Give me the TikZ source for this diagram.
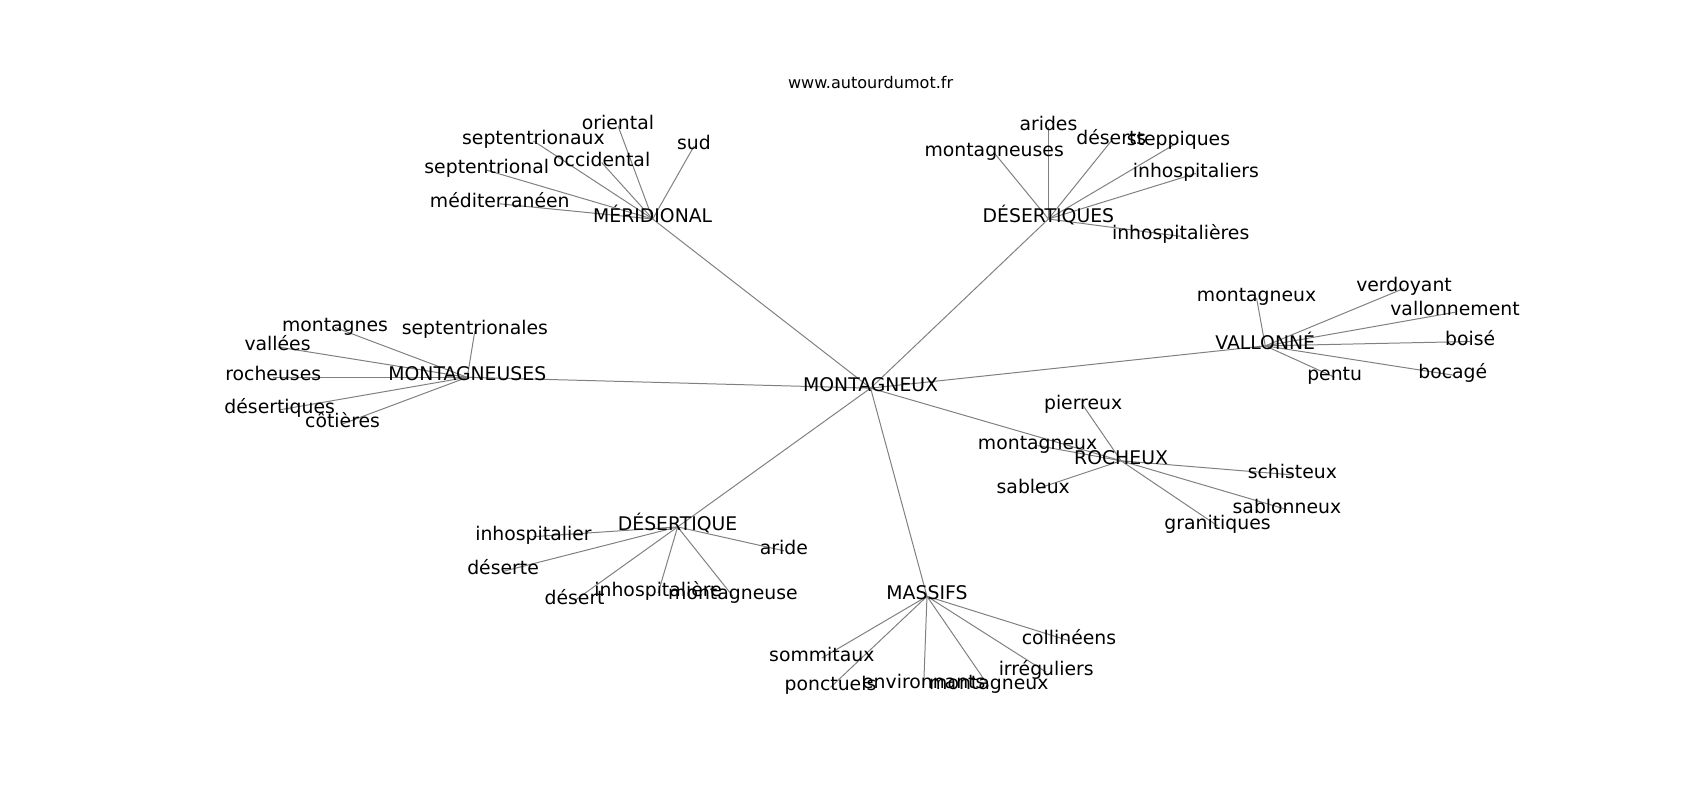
\documentclass[tikz,border=0pt]{standalone}
\usepackage{fontspec}
\setmainfont{DejaVu Sans}
\usetikzlibrary{backgrounds}

\begin{document}
\begin{tikzpicture}[x=0.027538cm,y=-0.027538cm,
	word/.style={inner sep=0pt,text height=0.76em,text depth=0.24em,font=\fontsize{13.6}{16}\selectfont},
	link/.style={draw=black!50,line width=0.72pt}]
	\useasboundingbox (0,-3) rectangle (1568,735);
	\node[inner sep=0pt,font=\fontsize{11.6}{14}\selectfont] (title) at (803,73) {www.autourdumot.fr};
	
	\node[word] (c) at (803,355) {MONTAGNEUX};
	\node[word] (a0) at (602,199) {MÉRIDIONAL};
	\node[word] (b0) at (967,199) {DÉSERTIQUES};
	\node[word] (d0) at (431,345) {MONTAGNEUSES};
	\node[word] (e0) at (1167,316) {VALLONNÉ};
	\node[word] (f0) at (1034,422) {ROCHEUX};
	\node[word] (g0) at (625,483) {DÉSERTIQUE};
	\node[word] (k0) at (855,547) {MASSIFS};
	
	\node[word] (a1) at (570,113) {oriental};
	\node[word] (a2) at (640,132) {sud};
	\node[word] (a3) at (492,127) {septentrionaux};
	\node[word] (a4) at (555,147) {occidental};
	\node[word] (a5) at (449,154) {septentrional};
	\node[word] (a6) at (461,185) {méditerranéen};
	
	\node[word] (b1) at (967,114) {arides};
	\node[word] (b2) at (1025,127) {déserts};
	\node[word] (b3) at (1087,128) {steppiques};
	\node[word] (b4) at (917,138) {montagneuses};
	\node[word] (b5) at (1103,157) {inhospitaliers};
	\node[word] (b6) at (1089,215) {inhospitalières};
	
	\node[word] (d1) at (309,299) {montagnes};
	\node[word] (d2) at (438,302) {septentrionales};
	\node[word] (d3) at (256,317) {vallées};
	\node[word] (d4) at (252,345) {rocheuses};
	\node[word] (d5) at (258,375) {désertiques};
	\node[word] (d6) at (316,388) {côtières};
	
	\node[word] (e1) at (1159,272) {montagneux};
	\node[word] (e2) at (1295,263) {verdoyant};
	\node[word] (e3) at (1342,285) {vallonnement};
	\node[word] (e4) at (1356,312) {boisé};
	\node[word] (e5) at (1340,343) {bocagé};
	\node[word] (e6) at (1231,345) {pentu};
	
	\node[word] (f1) at (999,371) {pierreux};
	\node[word] (f2) at (957,408) {montagneux};
	\node[word] (f3) at (953,449) {sableux};
	\node[word] (f4) at (1192,435) {schisteux};
	\node[word] (f5) at (1187,467) {sablonneux};
	\node[word] (f6) at (1123,482) {granitiques};
	
	\node[word] (g1) at (492,492) {inhospitalier};
	\node[word] (g2) at (723,505) {aride};
	\node[word] (g3) at (464,524) {déserte};
	\node[word] (g4) at (530,551) {désert};
	\node[word] (g5) at (607,544) {inhospitalière};
	\node[word] (g6) at (676,547) {montagneuse};
	
	\node[word] (k1) at (986,588) {collinéens};
	\node[word] (k2) at (758,604) {sommitaux};
	\node[word] (k3) at (965,617) {irréguliers};
	\node[word] (k4) at (766,631) {ponctuels};
	\node[word] (k5) at (852,629) {environnants};
	\node[word] (k6) at (912,630) {montagneux};
	
	\begin{scope}[on background layer]
	\draw[link] (c.center) -- (a0.center);
	\draw[link] (c.center) -- (b0.center);
	\draw[link] (c.center) -- (d0.center);
	\draw[link] (c.center) -- (e0.center);
	\draw[link] (c.center) -- (f0.center);
	\draw[link] (c.center) -- (g0.center);
	\draw[link] (c.center) -- (k0.center);
	
	\draw[link] (a0.center) -- (a1.center);
	\draw[link] (a0.center) -- (a2.center);
	\draw[link] (a0.center) -- (a3.center);
	\draw[link] (a0.center) -- (a4.center);
	\draw[link] (a0.center) -- (a5.center);
	\draw[link] (a0.center) -- (a6.center);
	
	\draw[link] (b0.center) -- (b1.center);
	\draw[link] (b0.center) -- (b2.center);
	\draw[link] (b0.center) -- (b3.center);
	\draw[link] (b0.center) -- (b4.center);
	\draw[link] (b0.center) -- (b5.center);
	\draw[link] (b0.center) -- (b6.center);
	
	\draw[link] (d0.center) -- (d1.center);
	\draw[link] (d0.center) -- (d2.center);
	\draw[link] (d0.center) -- (d3.center);
	\draw[link] (d0.center) -- (d4.center);
	\draw[link] (d0.center) -- (d5.center);
	\draw[link] (d0.center) -- (d6.center);
	
	\draw[link] (e0.center) -- (e1.center);
	\draw[link] (e0.center) -- (e2.center);
	\draw[link] (e0.center) -- (e3.center);
	\draw[link] (e0.center) -- (e4.center);
	\draw[link] (e0.center) -- (e5.center);
	\draw[link] (e0.center) -- (e6.center);
	
	\draw[link] (f0.center) -- (f1.center);
	\draw[link] (f0.center) -- (f2.center);
	\draw[link] (f0.center) -- (f3.center);
	\draw[link] (f0.center) -- (f4.center);
	\draw[link] (f0.center) -- (f5.center);
	\draw[link] (f0.center) -- (f6.center);
	
	\draw[link] (g0.center) -- (g1.center);
	\draw[link] (g0.center) -- (g2.center);
	\draw[link] (g0.center) -- (g3.center);
	\draw[link] (g0.center) -- (g4.center);
	\draw[link] (g0.center) -- (g5.center);
	\draw[link] (g0.center) -- (g6.center);
	
	\draw[link] (k0.center) -- (k1.center);
	\draw[link] (k0.center) -- (k2.center);
	\draw[link] (k0.center) -- (k3.center);
	\draw[link] (k0.center) -- (k4.center);
	\draw[link] (k0.center) -- (k5.center);
	\draw[link] (k0.center) -- (k6.center);
	\end{scope}
	
\end{tikzpicture}
\end{document}
